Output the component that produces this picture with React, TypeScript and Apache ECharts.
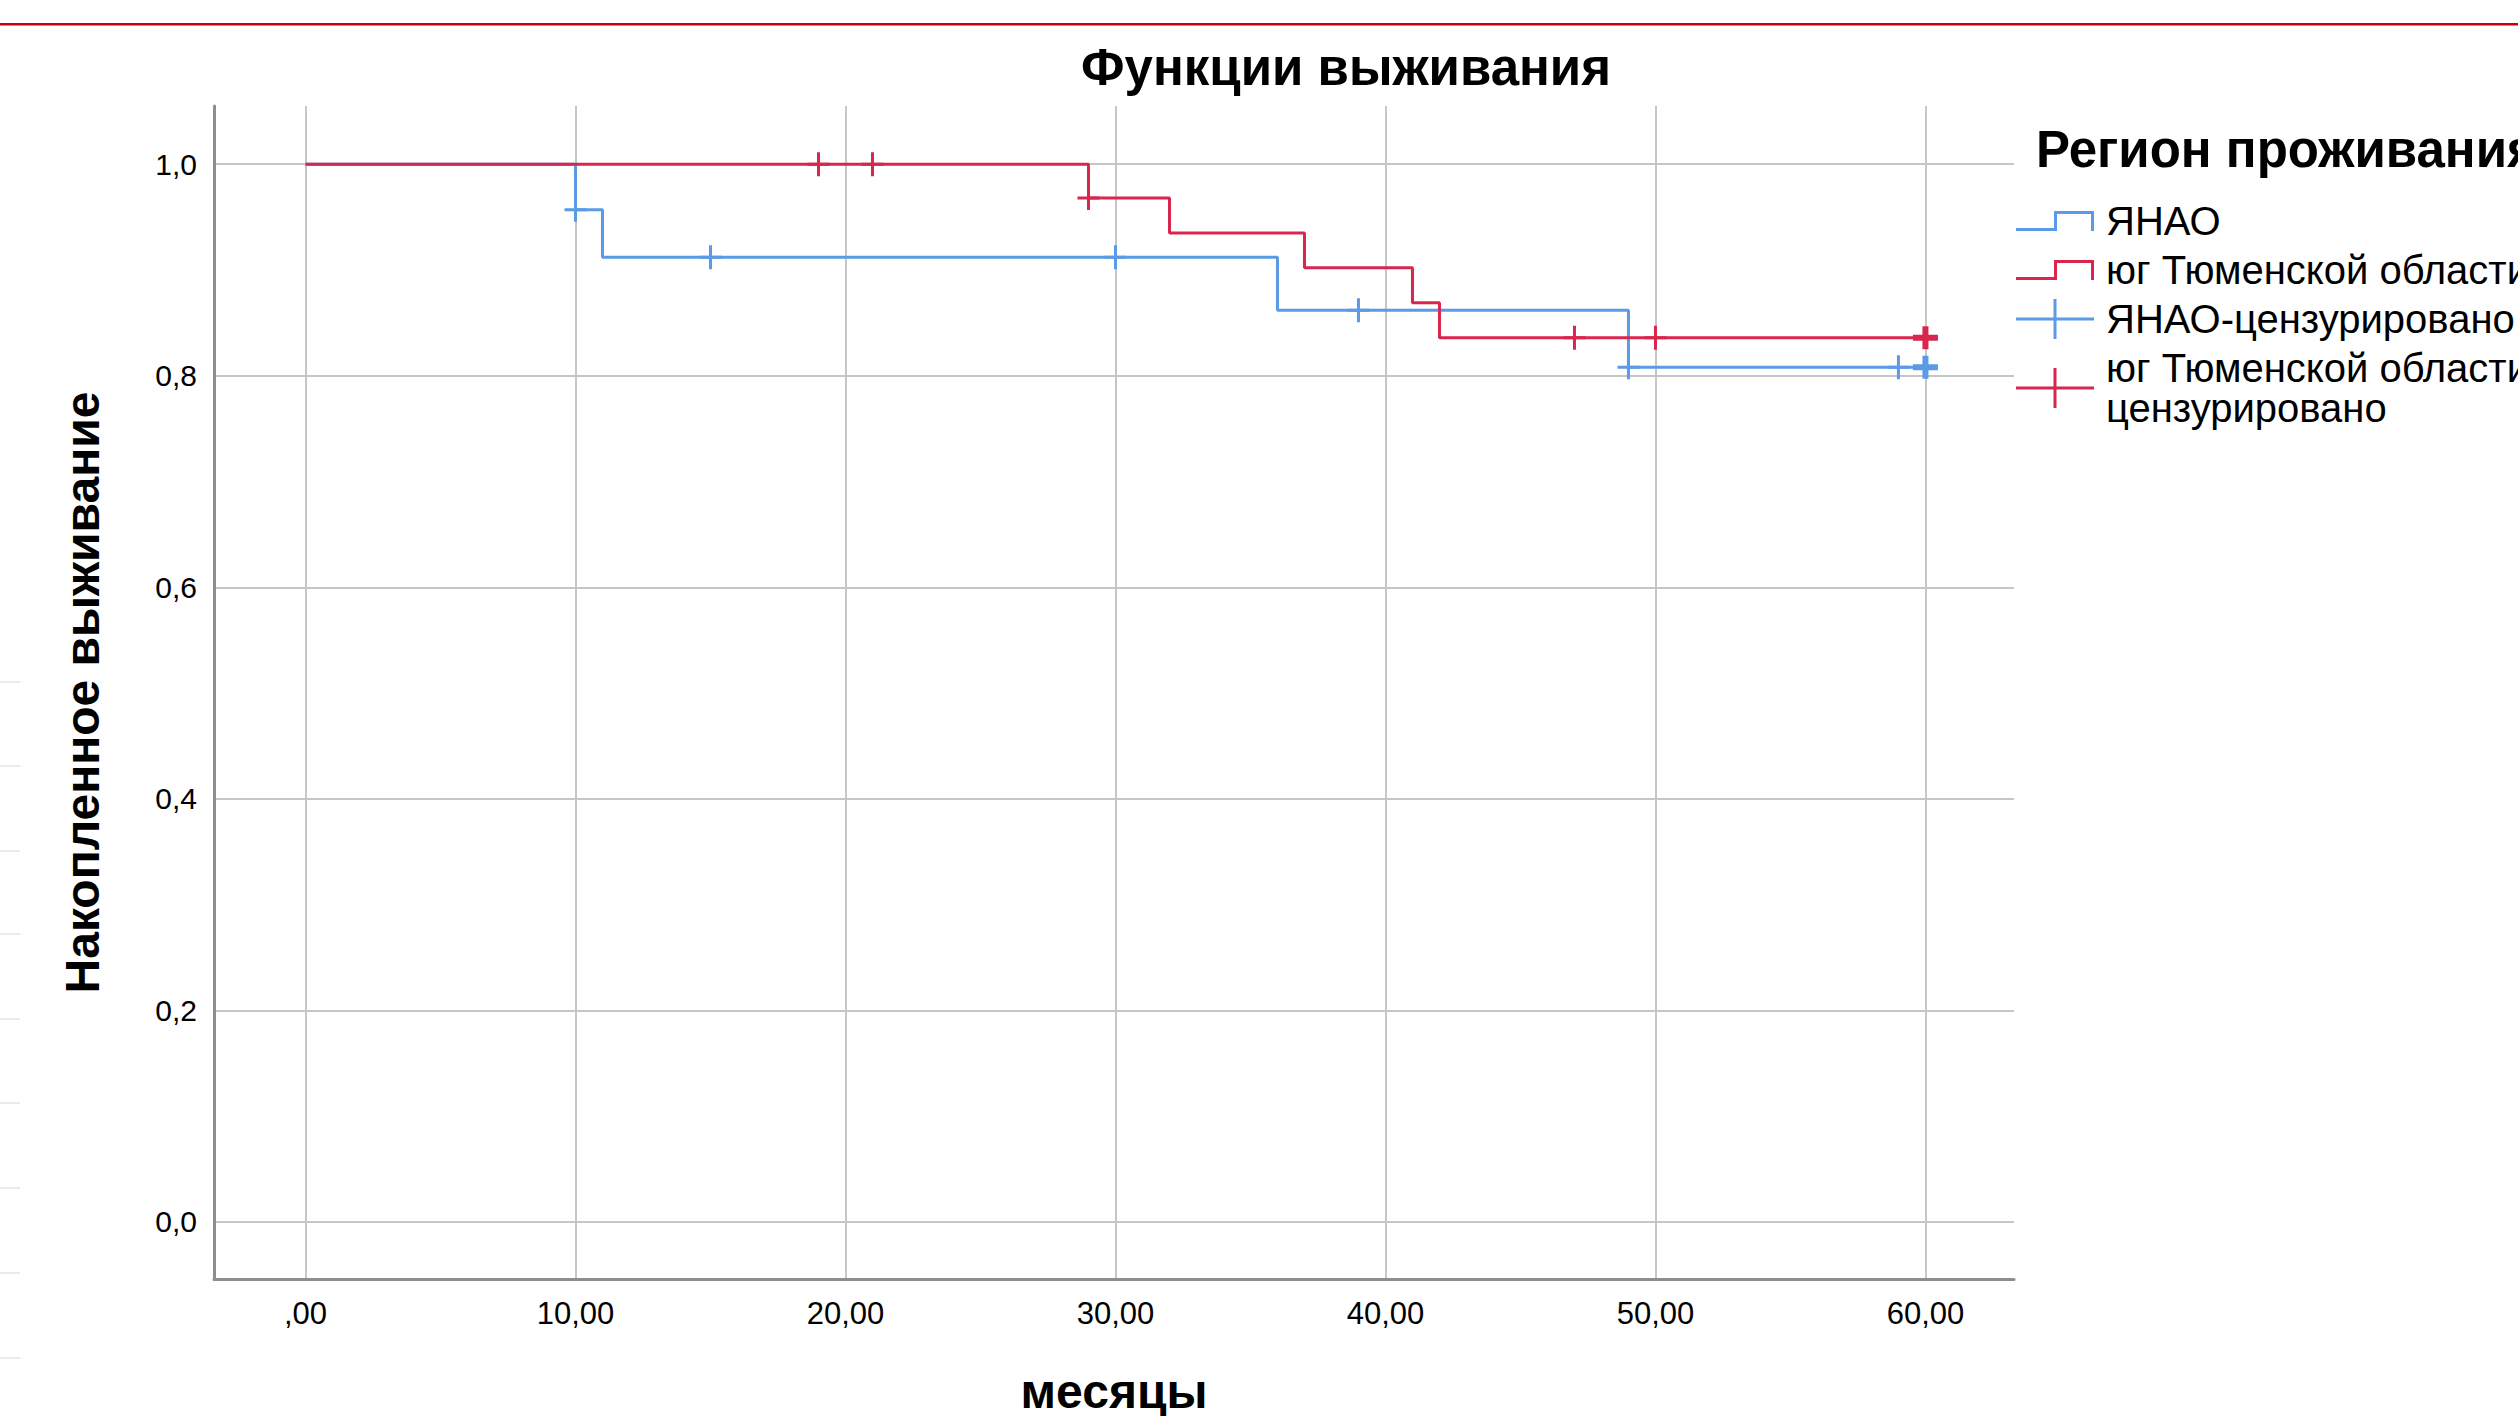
import React, { useEffect, useRef } from 'react';
import * as echarts from 'echarts';

// ---- data ----
const xTicks = [0, 10, 20, 30, 40, 50, 60];
const yTicks = [0, 0.2, 0.4, 0.6, 0.8, 1.0];

const nameYanao = 'ЯНАО';
const nameYug = 'юг Тюменской области';
const nameYanaoCens = 'ЯНАО-цензурировано';
const nameYugCens = 'юг Тюменской области-цензурировано';

// Kaplan-Meier steps (time in months, cumulative survival)
const yanaoTimes = [0, 10, 11, 36, 49, 60];
const yanaoSurvival = [1.0, 0.957, 0.912, 0.862, 0.808, 0.808];
const yugTimes = [0, 29, 32, 37, 41, 42, 60];
const yugSurvival = [1.0, 0.968, 0.935, 0.902, 0.869, 0.836, 0.836];

// censored observations
const yanaoCensTimes = [10, 15, 30, 39, 49, 59, 60];
const yanaoCensSurvival = [0.957, 0.912, 0.912, 0.862, 0.808, 0.808, 0.808];
const yanaoCensCount = [1, 1, 1, 1, 1, 1, 2];
const yugCensTimes = [19, 21, 29, 47, 50, 60];
const yugCensSurvival = [1.0, 1.0, 0.968, 0.836, 0.836, 0.836];
const yugCensCount = [1, 1, 1, 1, 1, 2];

// slide decoration (thin light lines at the left edge)
const edgeLinesY = [682, 766, 851, 934, 1019, 1103, 1188, 1273, 1358];

const FONT = 'Liberation Sans';
const BLUE = '#5b9be6';
const RED = '#d8264f';

const PLUS = 'path://M0,10.5H22V13.5H0Z M9.5,0H12.5V24H9.5Z';
const PLUS_BOLD = 'path://M0,8.5H25V14.5H0Z M9.5,0H15.5V23H9.5Z';
const LEGEND_STEP = 'path://M0,17H41V20H0Z M38,0H41V20H38Z M38,0H78V3H38Z M75,0H78V20H75Z';
const LEGEND_PLUS = 'path://M0,18.5H78V21.5H0Z M37.5,0H40.5V40H37.5Z';

function censData(times: number[], surv: number[], count: number[]) {
  return times.map((t, i) => ({
    value: [t, surv[i]],
    symbol: count[i] > 1 ? PLUS_BOLD : PLUS,
    symbolSize: count[i] > 1 ? [25, 23] : [22, 24],
  }));
}

export default function App() {
  const ref = useRef<HTMLDivElement>(null);

  useEffect(() => {
    if (!ref.current) return;
    const chart = echarts.init(ref.current, null, { renderer: 'svg' });

    const xFmt = (v: number) => (v === 0 ? ',00' : v.toFixed(2).replace('.', ','));
    const yFmt = (v: number) => v.toFixed(1).replace('.', ',');

    const option: any = {
      animation: false,
      backgroundColor: '#ffffff',
      title: [
        {
          text: 'Функции выживания',
          left: 1346,
          top: 67,
          textAlign: 'center',
          textVerticalAlign: 'middle',
          padding: 0,
          textStyle: { fontFamily: FONT, fontSize: 51, fontWeight: 'bold', color: '#000' },
        },
        {
          text: 'Регион проживания',
          left: 2036,
          top: 149,
          textAlign: 'left',
          textVerticalAlign: 'middle',
          padding: 0,
          textStyle: { fontFamily: FONT, fontSize: 51, fontWeight: 'bold', color: '#000' },
        },
      ],
      graphic: [
        {
          type: 'rect',
          silent: true,
          shape: { x: 0, y: 23, width: 2518, height: 2.5 },
          style: { fill: '#c8000c' },
        },
        ...edgeLinesY.map((y) => ({
          type: 'line',
          silent: true,
          shape: { x1: 0, y1: y, x2: 20, y2: y },
          style: { stroke: '#d6d6d6', lineWidth: 1 },
        })),
      ],
      legend: {
        orient: 'vertical',
        left: 2016,
        top: 201,
        padding: 0,
        itemWidth: 78,
        itemHeight: 40,
        itemGap: 9,
        symbolKeepAspect: true,
        selectedMode: false,
        formatter: (name: string) =>
          name === nameYugCens ? 'юг Тюменской области-\nцензурировано' : name,
        textStyle: {
          fontFamily: FONT,
          fontSize: 40,
          lineHeight: 40,
          color: '#000',
          padding: [0, 0, 0, 7],
        },
        data: [
          { name: nameYanao, icon: LEGEND_STEP, itemStyle: { color: BLUE, borderWidth: 0 } },
          { name: nameYug, icon: LEGEND_STEP, itemStyle: { color: RED, borderWidth: 0 } },
          { name: nameYanaoCens, icon: LEGEND_PLUS, itemStyle: { color: BLUE, borderWidth: 0 } },
          { name: nameYugCens, icon: LEGEND_PLUS, itemStyle: { color: RED, borderWidth: 0 } },
        ],
      },
      grid: {
        left: 214,
        right: 504,
        top: 106,
        bottom: 137,
        containLabel: false,
        outerBoundsMode: 'none',
      },
      xAxis: {
        type: 'value',
        min: -3.39,
        max: 63.28,
        name: 'месяцы',
        nameLocation: 'middle',
        nameGap: 112,
        nameTextStyle: {
          fontFamily: FONT,
          fontSize: 48,
          fontWeight: 'bold',
          color: '#000',
          verticalAlign: 'middle',
        },
        axisLine: { show: true, onZero: false, lineStyle: { color: '#8e8e8e', width: 3 } },
        axisTick: { show: false, customValues: xTicks },
        axisLabel: {
          customValues: xTicks,
          formatter: xFmt,
          margin: 19,
          fontFamily: FONT,
          fontSize: 31,
          color: '#000',
        },
        splitLine: { show: true, lineStyle: { color: '#c6c6c6', width: 2 } },
      },
      yAxis: {
        type: 'value',
        min: -0.054,
        max: 1.055,
        name: 'Накопленное выживание',
        nameLocation: 'middle',
        nameGap: 132,
        nameTextStyle: {
          fontFamily: FONT,
          fontSize: 48,
          fontWeight: 'bold',
          color: '#000',
          verticalAlign: 'middle',
        },
        axisLine: { show: true, onZero: false, lineStyle: { color: '#8e8e8e', width: 3 } },
        axisTick: { show: false, customValues: yTicks },
        axisLabel: {
          customValues: yTicks,
          formatter: yFmt,
          margin: 17,
          padding: [10, 0, 0, 0],
          fontFamily: FONT,
          fontSize: 30,
          color: '#000',
        },
        splitLine: { show: true, lineStyle: { color: '#c6c6c6', width: 2 } },
      },
      series: [
        {
          name: nameYanao,
          type: 'line',
          step: 'end',
          showSymbol: false,
          symbol: 'none',
          data: yanaoTimes.map((t, i) => [t, yanaoSurvival[i]]),
          lineStyle: { color: BLUE, width: 3 },
          itemStyle: { color: BLUE },
          z: 3,
        },
        {
          name: nameYanaoCens,
          type: 'scatter',
          data: censData(yanaoCensTimes, yanaoCensSurvival, yanaoCensCount),
          itemStyle: { color: BLUE, opacity: 1 },
          z: 4,
        },
        {
          name: nameYug,
          type: 'line',
          step: 'end',
          showSymbol: false,
          symbol: 'none',
          data: yugTimes.map((t, i) => [t, yugSurvival[i]]),
          lineStyle: { color: RED, width: 3 },
          itemStyle: { color: RED },
          z: 5,
        },
        {
          name: nameYugCens,
          type: 'scatter',
          data: censData(yugCensTimes, yugCensSurvival, yugCensCount),
          itemStyle: { color: RED, opacity: 1 },
          z: 6,
        },
      ],
    };

    chart.setOption(option);
    return () => {
      chart.dispose();
    };
  }, []);

  return (
    <div
      ref={ref}
      style={{
        position: 'fixed',
        left: 0,
        top: 0,
        width: 2518,
        height: 1416,
        background: '#ffffff',
      }}
    />
  );
}
